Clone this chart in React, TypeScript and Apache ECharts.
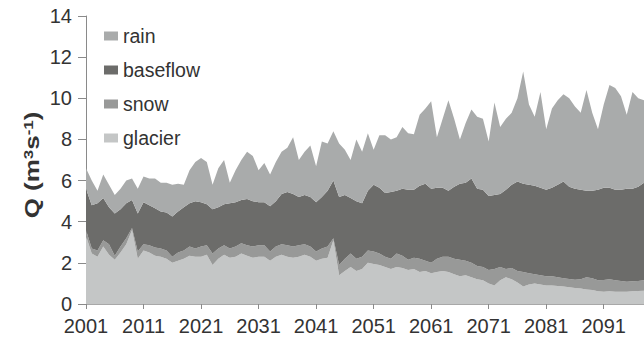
import { useEffect, useRef } from "react";
import * as echarts from "echarts";

// Annual discharge components, 2001–2098 (m³ s⁻¹), stacked bottom to top:
// glacier, snow, baseflow, rain.
const firstYear = 2001;
const lastYear = 2098;
const years: string[] = [];
for (let y = firstYear; y <= lastYear; y++) years.push(String(y));

const glacier = [
  3.3, 2.45, 2.3, 2.8, 2.4, 2.15, 2.5, 2.9, 3.6, 2.2,
  2.6, 2.5, 2.35, 2.3, 2.2, 2.0, 2.1, 2.2, 2.35, 2.3,
  2.3, 2.4, 1.9, 2.2, 2.4, 2.25, 2.3, 2.45, 2.35, 2.25,
  2.3, 2.3, 2.1, 2.3, 2.4, 2.3, 2.25, 2.3, 2.4, 2.3,
  2.1, 2.2, 2.25, 3.1, 1.4, 1.6, 1.8, 1.6, 1.7, 2.0,
  1.95, 1.9, 1.8, 1.7, 1.8, 1.75, 1.65, 1.7, 1.55, 1.6,
  1.5, 1.55, 1.6, 1.55, 1.45, 1.35, 1.4, 1.3, 1.2, 1.15,
  1.0, 0.9, 1.15, 1.3, 1.2, 1.05, 0.85, 0.95, 1.0, 0.95,
  0.9, 0.9, 0.88, 0.85, 0.82, 0.78, 0.75, 0.7, 0.68, 0.62,
  0.6, 0.62, 0.6, 0.6, 0.6, 0.62, 0.63, 0.65,
];

const snow = [
  0.3, 0.25, 0.3, 0.3, 0.5, 0.2, 0.3, 0.3, 0.1, 0.35,
  0.3, 0.35, 0.4, 0.4, 0.4, 0.3, 0.4, 0.4, 0.45, 0.4,
  0.5, 0.45, 0.55, 0.5, 0.45, 0.45, 0.5, 0.5, 0.5, 0.55,
  0.55, 0.55, 0.45, 0.5, 0.5, 0.55, 0.55, 0.55, 0.5, 0.5,
  0.45, 0.5, 0.55, 0.1, 0.5, 0.6, 0.65, 0.6, 0.6, 0.6,
  0.6, 0.55, 0.5, 0.5, 0.65, 0.6, 0.5, 0.55, 0.65, 0.5,
  0.5, 0.65, 0.7, 0.75, 0.75, 0.8, 0.7, 0.7, 0.65, 0.65,
  0.65, 0.8, 0.65, 0.4, 0.55, 0.55, 0.7, 0.55, 0.45, 0.45,
  0.45, 0.45, 0.42, 0.4, 0.4, 0.4, 0.45, 0.6, 0.57, 0.53,
  0.57, 0.58, 0.55, 0.52, 0.48, 0.48, 0.49, 0.5,
];

const baseflow = [
  2.0, 2.1, 2.3, 2.05, 1.8, 2.05, 1.8, 1.7, 1.35, 1.85,
  2.05, 1.95, 1.9, 1.8, 1.85, 1.95, 2.0, 2.1, 2.1, 2.3,
  2.15, 2.0, 2.15, 2.0, 2.0, 2.2, 2.15, 2.1, 2.25, 2.2,
  2.1, 2.1, 2.2, 2.2, 2.45, 2.6, 2.55, 2.35, 2.4, 2.4,
  2.4, 2.5, 2.7, 2.8, 3.3, 3.1, 2.7, 2.8, 2.6, 2.9,
  3.25, 3.2, 3.1, 3.25, 3.05, 3.25, 3.4, 3.3, 3.55, 3.75,
  3.6, 3.45, 3.35, 3.2, 3.5, 3.7, 3.8, 4.1, 3.75, 3.75,
  3.6, 3.6, 3.55, 3.85, 4.05, 4.35, 4.3, 4.3, 4.3, 4.25,
  4.2, 4.3, 4.5, 4.7, 4.48, 4.42, 4.35, 4.2, 4.25, 4.4,
  4.48, 4.45, 4.4, 4.43, 4.52, 4.5, 4.58, 4.75,
];

const rain = [
  1.0, 1.2, 0.6, 1.15, 1.1, 0.9, 1.0, 1.1, 1.05, 1.2,
  1.25, 1.3, 1.45, 1.4, 1.45, 1.55, 1.35, 1.1, 1.6, 1.9,
  2.15, 2.05, 1.2, 1.9, 2.15, 1.0, 1.55, 1.95, 2.3, 2.2,
  1.55, 1.9, 1.55, 1.9, 2.05, 2.15, 2.75, 1.8, 2.1, 2.5,
  1.75, 2.7, 2.3, 2.4, 2.6, 2.2, 1.85, 3.0, 2.5, 2.8,
  1.7, 2.55, 2.8, 2.55, 2.6, 3.0, 2.75, 2.7, 3.45, 3.65,
  4.25, 2.45, 3.35, 4.4, 3.3, 2.15, 2.9, 3.35, 3.5, 3.45,
  2.65, 4.5, 3.25, 3.45, 3.5, 4.05, 5.45, 3.9, 3.35, 4.65,
  2.95, 3.85, 4.1, 4.25, 4.3, 4.0, 3.75, 4.9, 3.8, 2.95,
  4.05, 5.0, 4.95, 4.55, 3.6, 4.7, 4.3, 4.0,
];

const legendOrder = ["rain", "baseflow", "snow", "glacier"];

const colors: Record<string, string> = {
  glacier: "#c4c6c6",
  snow: "#989998",
  baseflow: "#6c6c6a",
  rain: "#a9abab",
};

const FONT = "'Liberation Sans', Arial, Helvetica, sans-serif";

function areaSeries(name: string, data: number[]) {
  return {
    name,
    type: "line" as const,
    stack: "Q",
    data,
    symbol: "none",
    showSymbol: false,
    lineStyle: { width: 0 },
    itemStyle: { color: colors[name] },
    areaStyle: { color: colors[name], opacity: 1 },
    emphasis: { disabled: true },
  };
}

export default function App() {
  const ref = useRef<HTMLDivElement>(null);

  useEffect(() => {
    if (!ref.current) return;
    const chart = echarts.init(ref.current, undefined, { renderer: "svg" });
    chart.setOption({
      animation: false,
      backgroundColor: "#ffffff",
      grid: { left: 86, right: 0, top: 16, bottom: 37, containLabel: false },
      legend: {
        data: legendOrder,
        orient: "vertical",
        left: 104,
        top: 26,
        padding: 0,
        itemWidth: 14,
        itemHeight: 9,
        itemGap: 14,
        icon: "rect",
        textStyle: { fontFamily: FONT, fontSize: 19.5, color: "#333333" },
      },
      // vertical axis title, stretched along its reading direction
      graphic: [
        {
          type: "text",
          x: 32,
          y: 165,
          rotation: Math.PI / 2,
          scaleX: 1.3,
          style: {
            text: "Q (m{sup|3}s{sup|-1})",
            fontFamily: FONT,
            fontSize: 20,
            fontWeight: "bold",
            fill: "#333333",
            align: "center",
            verticalAlign: "middle",
            rich: {
              sup: {
                fontFamily: FONT,
                fontSize: 13,
                fontWeight: "bold",
                fill: "#333333",
                verticalAlign: "top",
              },
            },
          },
        },
      ],
      xAxis: {
        type: "category",
        data: years,
        boundaryGap: false,
        axisLine: { show: true, lineStyle: { color: "#a8a8a8", width: 1 } },
        axisTick: {
          show: true,
          interval: (i: number) => i % 10 === 0,
          length: 5,
          lineStyle: { color: "#8a8a8a" },
        },
        axisLabel: {
          interval: (i: number) => i % 10 === 0,
          margin: 12,
          fontFamily: FONT,
          fontSize: 20,
          color: "#333333",
        },
        splitLine: { show: false },
      },
      yAxis: {
        type: "value",
        min: 0,
        max: 14,
        interval: 2,
        axisLine: { show: true, lineStyle: { color: "#8a8a8a", width: 1 } },
        axisTick: { show: true, length: 8, lineStyle: { color: "#8a8a8a" } },
        axisLabel: { margin: 14, fontFamily: FONT, fontSize: 20, color: "#333333" },
        splitLine: { show: false },
      },
      series: [
        areaSeries("glacier", glacier),
        areaSeries("snow", snow),
        areaSeries("baseflow", baseflow),
        areaSeries("rain", rain),
      ],
    });
    return () => chart.dispose();
  }, []);

  return (
    <div
      ref={ref}
      style={{ position: "absolute", left: 0, top: 0, width: 644, height: 341 }}
    />
  );
}
